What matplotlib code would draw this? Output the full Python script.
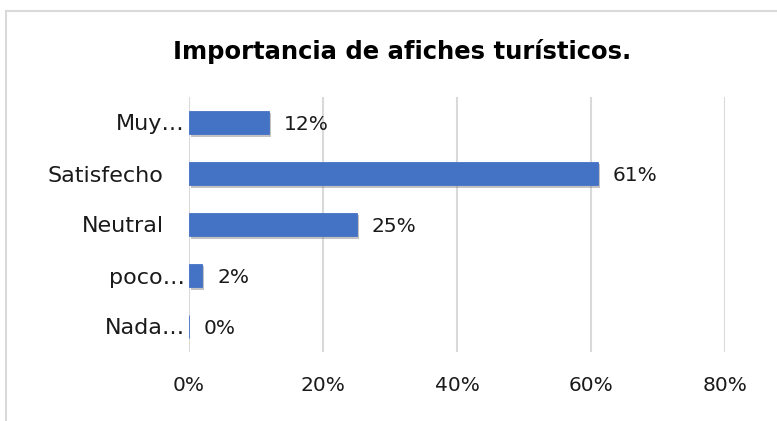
import numpy as np
import matplotlib
matplotlib.use("Agg")
import matplotlib.pyplot as plt
import matplotlib.patheffects as pe
import matplotlib.transforms as mtransforms
from matplotlib.lines import Line2D

# data (top to bottom)
categories = ["Muy…", "Satisfecho", "Neutral", "poco…", "Nada…"]
values = [12, 61, 25, 2, 0]
xticks = [0, 20, 40, 60, 80]

plt.rcParams['font.family'] = ['DejaVu Sans']

fig = plt.figure(figsize=(7.77, 4.21), dpi=100)
ax = fig.add_axes([189/777, 1-352/421, (725-189)/777, (352-97)/421])

y = np.arange(len(categories))
bars = ax.barh(y, values, height=0.47, color="#4472C4",
               edgecolor="#4472C4", linewidth=0.6, zorder=3)
for b in bars:
    b.set_path_effects([pe.SimplePatchShadow(offset=(1.5, -1.5), shadow_rgbFace="#888888", alpha=0.5),
                        pe.Normal()])

for yi, v in zip(y, values):
    ax.text(v + 2.2, yi + 0.03, f"{v}%", va="center", ha="left", fontsize=14.5, color="#1a1a1a")

ax.set_ylim(len(categories)-0.5, -0.5)
ax.set_xlim(0, 80)
ax.set_xticks(xticks)
ax.set_xticklabels([f"{t}%" for t in xticks])
ax.set_yticks(y)
ax.set_yticklabels(categories)
ax.tick_params(axis="both", length=0, colors="#1a1a1a")
ax.tick_params(axis="x", pad=17, labelsize=14.5)
ax.tick_params(axis="y", pad=3, labelsize=16)
ax.grid(axis="x", color="#D9D9D9", linewidth=1.5, zorder=0)
for s in ax.spines.values():
    s.set_visible(False)

# full (not truncated) labels sit a bit further left
shift = mtransforms.ScaledTranslation(-21/100, 0, fig.dpi_scale_trans)
for lbl in ax.get_yticklabels():
    if not lbl.get_text().endswith("…"):
        lbl.set_transform(lbl.get_transform() + shift)

fig.text(402/777, 1-51/421, "Importancia de afiches turísticos.", ha="center", va="center",
         fontsize=17.5, fontweight="bold", color="black")

# chart border (only left and top visible in the crop)
fig.add_artist(Line2D([6/777, 6/777], [0, 1-11/421], transform=fig.transFigure, color="#D9D9D9", lw=1.5))
fig.add_artist(Line2D([6/777, 1], [1-11/421, 1-11/421], transform=fig.transFigure, color="#D9D9D9", lw=1.5))

fig.savefig("out.png", dpi=100)
